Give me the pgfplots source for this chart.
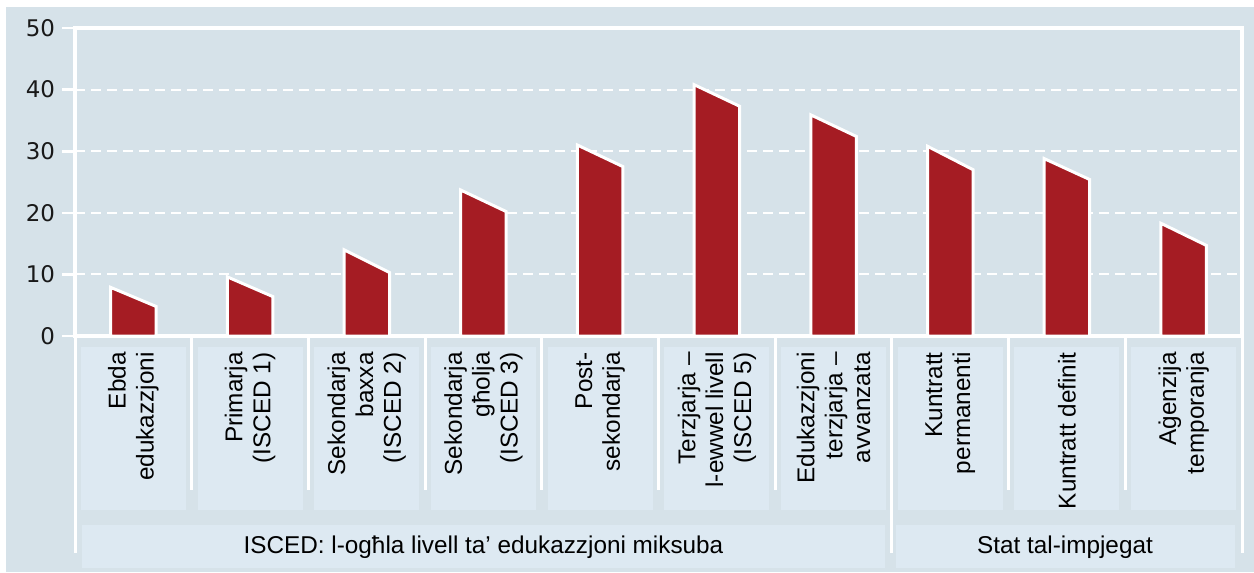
\documentclass[border=0pt]{standalone}
\usepackage{fontspec}
\setmainfont{Liberation Sans}
\newfontfamily\tickfont{DejaVu Sans}
\usepackage{pgfplots}
\pgfplotsset{compat=1.18}
\definecolor{bg}{RGB}{214,226,233}
\definecolor{boxc}{RGB}{221,233,242}
\definecolor{barc}{RGB}{165,28,35}
\begin{document}
\begin{tikzpicture}[x=1bp,y=1bp]
\fill[white] (-37.5,168) rectangle (589.5,-118);
\fill[bg] (-34.5,164.5) rectangle (589.5,-118);
\begin{axis}[
  at={(0,0)}, anchor=south west,
  scale only axis, width=583.5bp, height=154bp,
  xmin=-0.5, xmax=9.5, ymin=0, ymax=50,
  clip=false,
  xtick=\empty,
  ytick={0,10,20,30,40,50},
  ytick pos=left,
  tick align=outside,
  major tick length=6.5bp,
  tick style={white, line width=1.3bp},
  axis line style={white, line width=1.6bp},
  ymajorgrids,
  major grid style={white, line width=1bp, dash pattern=on 5bp off 3bp},
  yticklabel style={font=\tickfont\fontsize{11.5}{12}\selectfont, text=black!90, xshift=0bp, /pgf/number format/assume math mode=true},
]
\addplot[fill=barc, draw=white, line width=1.5bp] coordinates {(-0.195,0) (-0.195,7.9) (0.195,4.8) (0.195,0)} -- cycle;
\addplot[fill=barc, draw=white, line width=1.5bp] coordinates {(0.805,0) (0.805,9.6) (1.195,6.4) (1.195,0)} -- cycle;
\addplot[fill=barc, draw=white, line width=1.5bp] coordinates {(1.805,0) (1.805,14.0) (2.195,10.3) (2.195,0)} -- cycle;
\addplot[fill=barc, draw=white, line width=1.5bp] coordinates {(2.805,0) (2.805,23.7) (3.195,20.2) (3.195,0)} -- cycle;
\addplot[fill=barc, draw=white, line width=1.5bp] coordinates {(3.805,0) (3.805,31.0) (4.195,27.5) (4.195,0)} -- cycle;
\addplot[fill=barc, draw=white, line width=1.5bp] coordinates {(4.805,0) (4.805,40.8) (5.195,37.3) (5.195,0)} -- cycle;
\addplot[fill=barc, draw=white, line width=1.5bp] coordinates {(5.805,0) (5.805,35.9) (6.195,32.4) (6.195,0)} -- cycle;
\addplot[fill=barc, draw=white, line width=1.5bp] coordinates {(6.805,0) (6.805,30.8) (7.195,27.0) (7.195,0)} -- cycle;
\addplot[fill=barc, draw=white, line width=1.5bp] coordinates {(7.805,0) (7.805,28.8) (8.195,25.4) (8.195,0)} -- cycle;
\addplot[fill=barc, draw=white, line width=1.5bp] coordinates {(8.805,0) (8.805,18.3) (9.195,14.7) (9.195,0)} -- cycle;
\end{axis}
% category boxes
\foreach \k in {0,...,9} {
  \fill[boxc] ({29.175+58.35*\k-26.26},-5.5) rectangle ({29.175+58.35*\k+26.26},-87);
}
% group boxes
\fill[boxc] (3.5,-94.5) rectangle (405,-116);
\fill[boxc] (410.5,-94.5) rectangle (580,-116);
% separators
\foreach \k in {0,...,5,7,8} {
  \draw[white, line width=1.5bp] ({58.35*(\k+1)},0) -- ({58.35*(\k+1)},-77);
}
\draw[white, line width=1.5bp] (0,0) -- (0,-108.5);
\draw[white, line width=1.5bp] (408.45,0) -- (408.45,-108.5);
\draw[white, line width=1.5bp] (583.5,0) -- (583.5,-108.5);
% category labels
\tikzset{cl/.style={rotate=90, anchor=east, align=right, inner sep=0pt, font=\fontsize{12.2}{14}\selectfont}}
\node[cl] at ({29.175+58.35*0},-8) {Ebda\\edukazzjoni};
\node[cl] at ({29.175+58.35*1},-8) {Primarja\\(ISCED 1)};
\node[cl] at ({29.175+58.35*2},-8) {Sekondarja\\baxxa\\(ISCED 2)};
\node[cl] at ({29.175+58.35*3},-8) {Sekondarja\\għolja\\(ISCED 3)};
\node[cl] at ({29.175+58.35*4},-8) {Post-\\sekondarja};
\node[cl] at ({29.175+58.35*5},-8) {Terzjarja –\\l-ewwel livell\\(ISCED 5)};
\node[cl] at ({29.175+58.35*6},-8) {Edukazzjoni\\terzjarja –\\avvanzata};
\node[cl] at ({29.175+58.35*7},-8) {Kuntratt\\permanenti};
\node[cl] at ({29.175+58.35*8},-8) {Kuntratt definit};
\node[cl] at ({29.175+58.35*9},-8) {Aġenzija\\temporanja};
% group labels
\node[font=\fontsize{12.2}{14}\selectfont] at (204.25,-105.5) {ISCED: l-ogħla livell ta’ edukazzjoni miksuba};
\node[font=\fontsize{12.2}{14}\selectfont] at (495,-105.5) {Stat tal-impjegat};
\end{tikzpicture}
\end{document}
